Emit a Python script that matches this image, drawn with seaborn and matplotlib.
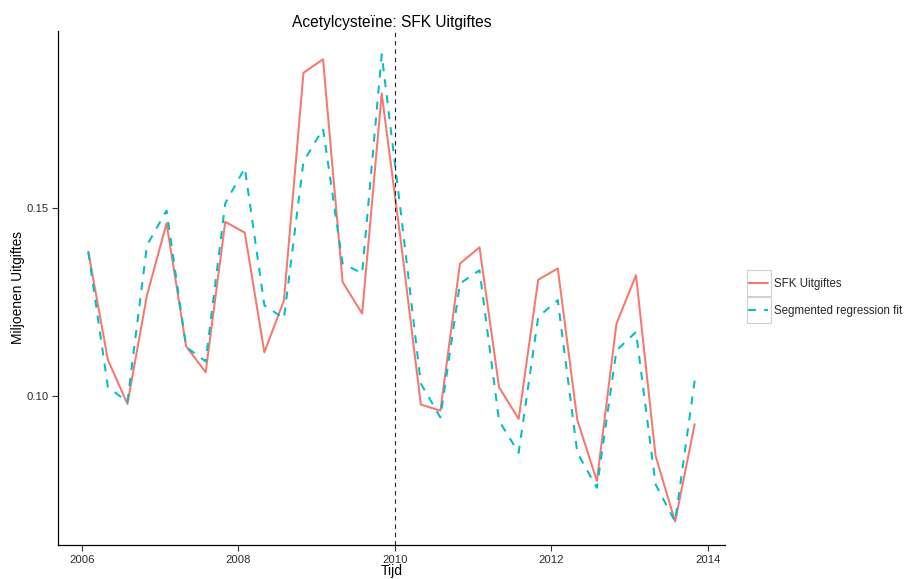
import matplotlib
matplotlib.use("Agg")
import matplotlib.pyplot as plt
from matplotlib.patches import Rectangle
import numpy as np
import pandas as pd
import seaborn as sns

# ---- data ----
months = ["2006-02", "2006-05", "2006-08", "2006-11",
          "2007-02", "2007-05", "2007-08", "2007-11",
          "2008-02", "2008-05", "2008-08", "2008-11",
          "2009-02", "2009-05", "2009-08", "2009-11",
          "2010-02", "2010-05", "2010-08", "2010-11",
          "2011-02", "2011-05", "2011-08", "2011-11",
          "2012-02", "2012-05", "2012-08", "2012-11",
          "2013-02", "2013-05", "2013-08", "2013-11"]

sfk_uitgiftes = [0.1384, 0.1097, 0.0980, 0.1269, 0.1460, 0.1133, 0.1064, 0.1464,
                 0.1435, 0.1117, 0.1255, 0.1860, 0.1896, 0.1304, 0.1220, 0.1805,
                 0.1403, 0.0978, 0.0962, 0.1353, 0.1396, 0.1024, 0.0940, 0.1310,
                 0.1340, 0.0937, 0.0775, 0.1193, 0.1322, 0.0842, 0.0667, 0.0926]

segmented_fit = [0.1384, 0.1025, 0.0985, 0.1402, 0.1494, 0.1131, 0.1093, 0.1513,
                 0.1607, 0.1242, 0.1207, 0.1624, 0.1711, 0.1353, 0.1327, 0.1909,
                 0.1478, 0.1034, 0.0944, 0.1300, 0.1335, 0.0935, 0.0850, 0.1211,
                 0.1256, 0.0850, 0.0757, 0.1122, 0.1171, 0.0766, 0.0667, 0.1042]

series_names = ["SFK Uitgiftes", "Segmented regression fit"]
intervention = 2010
x_ticks = [2006, 2008, 2010, 2012, 2014]
y_ticks = [0.10, 0.15]
y_tick_labels = ["0.10", "0.15"]
title = "Acetylcysteïne: SFK Uitgiftes"
x_label = "Tijd"
y_label = "Miljoenen Uitgiftes"

# ---- build table ----
dt = pd.to_datetime(months, format="%Y-%m")
tijd = dt.year + (dt.month - 1) / 12.0
df = pd.concat([
    pd.DataFrame({"Tijd": tijd, "value": sfk_uitgiftes, "serie": series_names[0]}),
    pd.DataFrame({"Tijd": tijd, "value": segmented_fit, "serie": series_names[1]}),
], ignore_index=True)

sns.set_theme(style="white")
plt.rcParams["font.family"] = ["Liberation Sans", "DejaVu Sans"]

W, H = 906, 579
fig = plt.figure(figsize=(W / 100, H / 100), dpi=100)
ax = fig.add_axes([58 / W, 1 - 545 / H, (725 - 58) / W, (545 - 31) / H])

palette = {series_names[0]: "#F8766D", series_names[1]: "#00BFC4"}
dashes = {series_names[0]: "", series_names[1]: (4, 4)}
sns.lineplot(data=df, x="Tijd", y="value", hue="serie", style="serie",
             hue_order=series_names, style_order=series_names,
             palette=palette, dashes=dashes, linewidth=1.45, ax=ax,
             estimator=None, sort=False)

ax.axvline(intervention, color="#222222", linewidth=0.8, linestyle=(0, (4, 3.5)))

# ggplot-like expansion (5%)
xmin, xmax = df["Tijd"].min(), df["Tijd"].max()
ymin, ymax = df["value"].min(), df["value"].max()
ax.set_xlim(xmin - 0.05 * (xmax - xmin), xmax + 0.05 * (xmax - xmin))
ax.set_ylim(ymin - 0.05 * (ymax - ymin), ymax + 0.05 * (ymax - ymin))

ax.set_xticks(x_ticks)
ax.set_xticklabels([str(t) for t in x_ticks])
ax.set_yticks(y_ticks)
ax.set_yticklabels(y_tick_labels)
ax.tick_params(axis="both", which="major", direction="out", length=4, width=0.8,
               color="#333333", labelsize=8.1, labelcolor="#2b2b2b", pad=3,
               bottom=True, left=True)
for s in ["top", "right"]:
    ax.spines[s].set_visible(False)
for s in ["left", "bottom"]:
    ax.spines[s].set_color("black")
    ax.spines[s].set_linewidth(0.9)
ax.set_xlabel("")
ax.set_ylabel("")
ax.grid(False)

fig.text(392 / W, 1 - 26.5 / H, title, ha="center", va="baseline", fontsize=11.2, color="black")
fig.text(392 / W, 1 - 574.5 / H, x_label, ha="center", va="baseline", fontsize=10, color="black")
fig.text(18 / W, 1 - 288 / H, y_label, ha="center", va="center", rotation=90, fontsize=9.9, color="black")

# legend
handles, labels = ax.get_legend_handles_labels()
ax.legend(handles=handles, labels=labels, loc="center left",
          bbox_to_anchor=(747.7 / W, 1 - 297.5 / H), bbox_transform=fig.transFigure,
          frameon=False, fontsize=8.3, handlelength=1.75, handletextpad=0.55,
          labelspacing=1.25, borderpad=0, borderaxespad=0)
for top in (270, 296.7):
    fig.add_artist(Rectangle((746.7 / W, 1 - (top + 26.2) / H), 24.3 / W, 26.2 / H,
                             transform=fig.transFigure, fill=False,
                             edgecolor="#D0D0D0", linewidth=0.8))

fig.savefig("out.png", dpi=100)
